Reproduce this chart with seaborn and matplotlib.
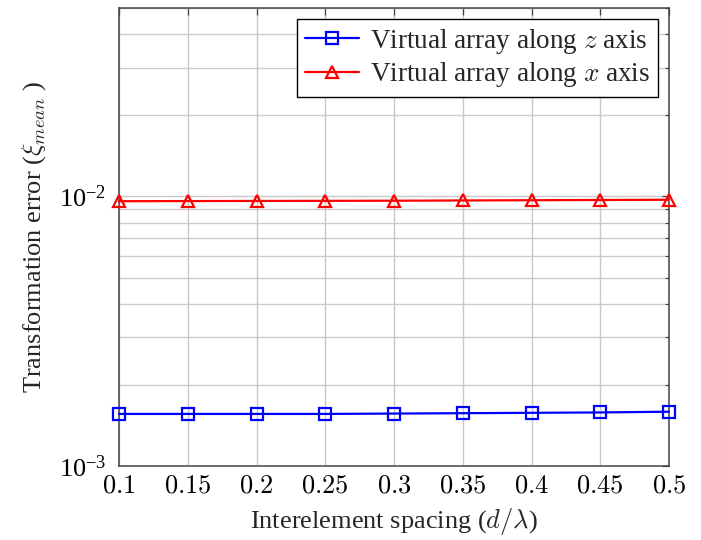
import matplotlib
matplotlib.use("Agg")
import matplotlib.pyplot as plt
import seaborn as sns
import pandas as pd
import numpy as np
from matplotlib.ticker import LogLocator, LogFormatterMathtext, NullFormatter, FixedLocator

spacing = [0.1, 0.15, 0.2, 0.25, 0.3, 0.35, 0.4, 0.45, 0.5]
err_z = [1.56e-3, 1.56e-3, 1.56e-3, 1.56e-3, 1.565e-3, 1.57e-3, 1.575e-3, 1.58e-3, 1.59e-3]
err_x = [9.60e-3, 9.61e-3, 9.62e-3, 9.63e-3, 9.64e-3, 9.66e-3, 9.68e-3, 9.70e-3, 9.72e-3]
x_tick_labels = ["0.1", "0.15", "0.2", "0.25", "0.3", "0.35", "0.4", "0.45", "0.5"]
label_z = r"Virtual array along $z$ axis"
label_x = r"Virtual array along $x$ axis"

sns.set_style("white")
plt.rcParams["font.family"] = ["Liberation Serif", "DejaVu Serif"]
plt.rcParams["mathtext.fontset"] = "cm"

df_z = pd.DataFrame({"spacing": spacing, "err": err_z})
df_x = pd.DataFrame({"spacing": spacing, "err": err_x})

fig = plt.figure(figsize=(7.01, 5.40), dpi=100)
ax = fig.add_axes([119 / 701, 74 / 540, 550 / 701, 458 / 540])

sns.lineplot(data=df_z, x="spacing", y="err", ax=ax, color="#0000ff", lw=1.6,
             marker="s", markersize=8, markerfacecolor="none", markeredgecolor="#0000ff",
             markeredgewidth=1.6, label=label_z, clip_on=False, zorder=5)
sns.lineplot(data=df_x, x="spacing", y="err", ax=ax, color="#ff0000", lw=1.6,
             marker="^", markersize=8.5, markerfacecolor="none", markeredgecolor="#ff0000",
             markeredgewidth=1.6, label=label_x, clip_on=False, zorder=5)

ax.set_yscale("log")
ax.set_xlim(0.1, 0.5)
ax.set_ylim(1e-3, 5e-2)

ax.xaxis.set_major_locator(FixedLocator(spacing))
ax.set_xticklabels(["$" + t + "$" for t in x_tick_labels])
ax.yaxis.set_major_locator(LogLocator(base=10, numticks=10))
ax.yaxis.set_major_formatter(LogFormatterMathtext())
ax.yaxis.set_minor_locator(LogLocator(base=10, subs=np.arange(2, 10), numticks=20))
ax.yaxis.set_minor_formatter(NullFormatter())

ax.grid(True, which="major", color="#c8c8c8", lw=1.0)
ax.grid(True, which="minor", axis="y", color="#cccccc", lw=1.0)
ax.set_axisbelow(True)

ax.tick_params(axis="both", which="both", direction="in", top=True, right=True,
               colors="#444444", labelcolor="black")
ax.tick_params(axis="both", which="major", length=5, width=0.9, labelsize=19)
ax.tick_params(axis="y", which="minor", length=3, width=0.8)
ax.tick_params(axis="x", which="major", pad=7)
ax.tick_params(axis="y", which="major", pad=9)

for s in ax.spines.values():
    s.set_color("#444444")
    s.set_linewidth(1.1)

ax.set_xlabel(r"Interelement spacing ($d/\lambda$)", fontsize=19, labelpad=6)
ax.set_ylabel(r"Transformation error ($\xi_{mean}$ )", fontsize=19, labelpad=8)

leg = ax.legend(loc="upper right", fontsize=19.5, frameon=True, fancybox=False,
                edgecolor="black", framealpha=1, borderaxespad=0.4,
                handlelength=2.0, handletextpad=0.4, borderpad=0.3, labelspacing=0.15)
leg.get_frame().set_linewidth(1.0)

fig.savefig("out.png", dpi=100)
